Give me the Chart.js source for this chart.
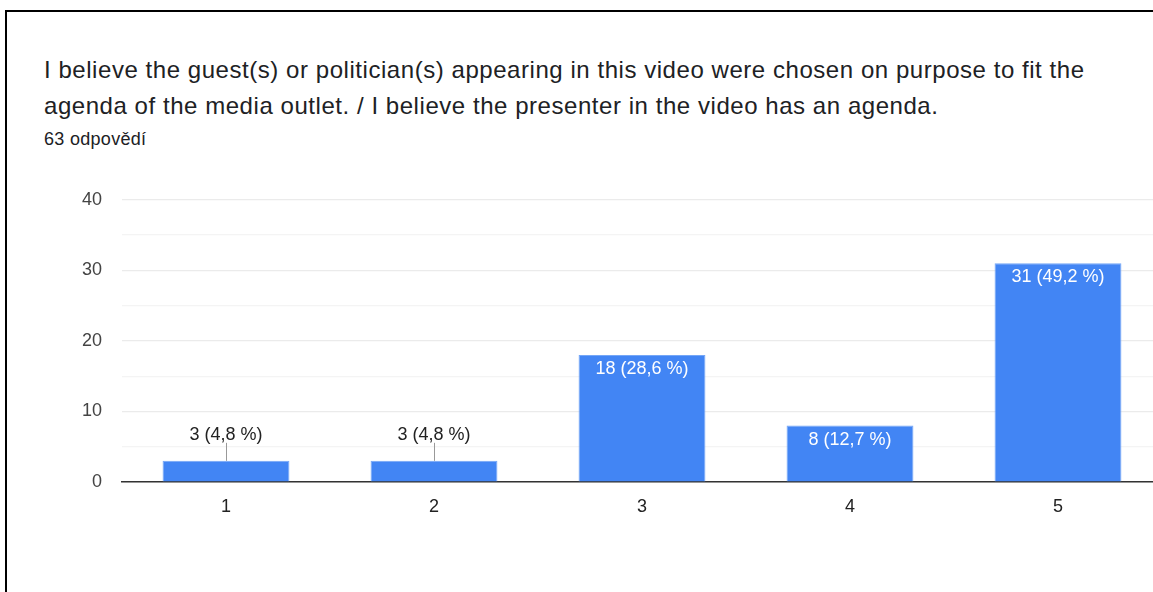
<!DOCTYPE html>
<html>
<head>
<meta charset="utf-8">
<script src="https://cdn.jsdelivr.net/npm/chart.js@4.4.1/dist/chart.umd.min.js"></script>
<style>
  html, body { margin: 0; padding: 0; background: #fff; overflow: hidden; }
  body { width: 1153px; height: 592px; position: relative; font-family: "Liberation Sans", Arial, sans-serif; }
  #frame { position: absolute; left: 5px; top: 10px; width: 1200px; height: 640px; border: 2px solid #000; box-sizing: border-box; }
  #title { position: absolute; left: 44px; top: 52px; font-size: 24px; letter-spacing: 0.55px; line-height: 36px; color: #202124; }
  #sub { position: absolute; left: 44px; top: 129px; font-size: 18px; letter-spacing: 0.3px; color: #202124; }
  #wrap { position: absolute; left: 0; top: 169px; width: 1170px; height: 371px; }
</style>
</head>
<body>
<div id="frame"></div>
<div id="title">I believe the guest(s) or politician(s) appearing in this video were chosen on purpose to fit the<br>agenda of the media outlet. / I believe the presenter in the video has an agenda.</div>
<div id="sub">63 odpovědí</div>
<div id="wrap"><canvas id="chart"></canvas></div>
<script>
// Data
const categories = ['1', '2', '3', '4', '5'];
const counts = [3, 3, 18, 8, 31];
const percents = ['4,8', '4,8', '28,6', '12,7', '49,2'];
const yTicks = [0, 10, 20, 30, 40];

const FONT = '"Liberation Sans", Arial, sans-serif';

// Value labels: inside the bar when it's tall enough, above with a small leader line otherwise
const barLabels = {
  id: 'barLabels',
  afterDatasetsDraw(chart) {
    const ctx = chart.ctx;
    const meta = chart.getDatasetMeta(0);
    ctx.save();
    ctx.font = '18px ' + FONT;
    ctx.textAlign = 'center';
    ctx.textBaseline = 'middle';
    meta.data.forEach((bar, i) => {
      const text = `${counts[i]} (${percents[i]} %)`;
      const h = bar.base - bar.y;
      if (h > 30) {
        ctx.fillStyle = '#fff';
        ctx.fillText(text, bar.x, bar.y + 14);
      } else {
        ctx.strokeStyle = '#999';
        ctx.lineWidth = 1;
        ctx.beginPath();
        ctx.moveTo(bar.x + 0.5, bar.y);
        ctx.lineTo(bar.x + 0.5, bar.y - 18);
        ctx.stroke();
        ctx.fillStyle = '#222';
        ctx.fillText(text, bar.x, bar.y - 26);
      }
    });
    ctx.restore();
  }
};

new Chart(document.getElementById('chart'), {
  type: 'bar',
  data: {
    labels: categories,
    datasets: [{
      data: counts,
      backgroundColor: '#4285f4',
      borderColor: '#74a6f7',
      borderWidth: 1,
      barPercentage: 0.61,
      categoryPercentage: 1
    }]
  },
  options: {
    responsive: true,
    maintainAspectRatio: false,
    animation: false,
    layout: { padding: { top: 10, right: 8, left: 0, bottom: 0 } },
    plugins: { legend: { display: false }, tooltip: { enabled: false } },
    scales: {
      x: {
        grid: { display: false },
        border: { color: '#333', width: 1.5 },
        ticks: { color: '#222', font: { size: 18, family: FONT }, padding: 6 },
        afterFit: s => { s.height = 58; }
      },
      y: {
        min: 0,
        max: 40,
        border: { display: false },
        grid: {
          color: c => (c.tick.value % 10 === 0 ? '#ebebeb' : '#f4f4f4'),
          lineWidth: 1.2,
          drawTicks: false
        },
        ticks: {
          stepSize: 5,
          color: '#444',
          padding: 20,
          font: { size: 18, family: FONT },
          callback: v => (yTicks.includes(v) ? v : '')
        },
        afterFit: s => { s.width = 122; }
      }
    }
  },
  plugins: [barLabels]
});
</script>
</body>
</html>
